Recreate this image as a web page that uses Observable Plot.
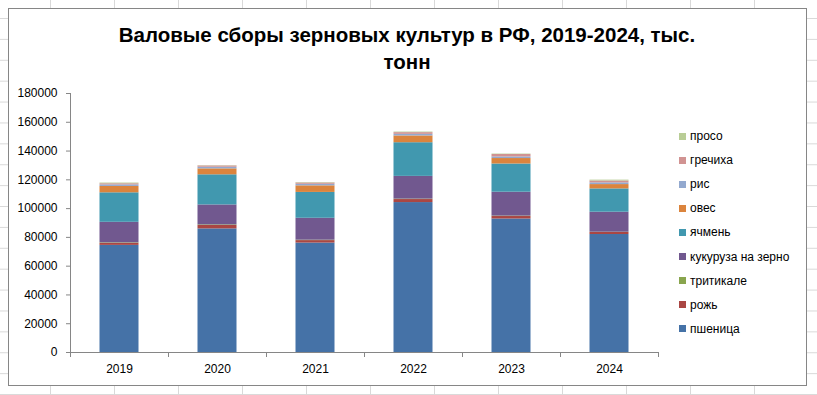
<!DOCTYPE html>
<html>
<head>
<meta charset="utf-8">
<script src="https://cdn.jsdelivr.net/npm/d3@7"></script>
<script src="https://cdn.jsdelivr.net/npm/@observablehq/plot@0.6"></script>
<style>
  html, body { margin: 0; padding: 0; width: 817px; height: 395px; overflow: hidden; background: #fff; }
  #sheet { position: absolute; left: 0; top: 0; width: 817px; height: 395px;
    background-image: linear-gradient(to right, #d9d9d9 1px, transparent 1px),
                      linear-gradient(to bottom, #d9d9d9 1px, transparent 1px);
    background-size: 64px 20.9px; background-position: 50px 18px; }
  #frame { position: absolute; left: 8px; top: 8px; width: 797px; height: 376px;
    border: 1px solid #868686; background: #fff; }
  #title { position: absolute; left: 8px; top: 21px; width: 798px; text-align: center;
    font-family: "Liberation Sans", Arial, sans-serif; font-weight: bold; font-size: 20.5px;
    line-height: 27px; color: #000; }
  #chart { position: absolute; left: 0; top: 0; }
  #legend { position: absolute; left: 679px; top: 124px;
    font-family: "Liberation Sans", Arial, sans-serif; font-size: 12px; color: #000; }
  .item { height: 24.1px; display: flex; align-items: center; }
  .sw { width: 7px; height: 7px; margin-right: 4px; }
</style>
</head>
<body>
<div id="sheet"></div>
<div id="frame"></div>
<div id="title">Валовые сборы зерновых культур в РФ, 2019-2024, тыс.<br>тонн</div>
<div id="chart"></div>
<div id="legend"></div>
<script>
const years = [2019, 2020, 2021, 2022, 2023, 2024];
const crops = ["пшеница", "рожь", "тритикале", "кукуруза на зерно", "ячмень", "овес", "рис", "гречиха", "просо"];
const colors = ["#4572A7", "#AA4643", "#89A54E", "#71588F", "#4198AF", "#DB843D", "#93A9CF", "#D19392", "#B9CD96"];

// thousand tonnes
const wheat     = [74450, 85900, 76060, 104200, 92800, 82000];
const rye       = [1430, 2380, 1710, 2100, 1700, 1400];
const triticale = [330, 400, 290, 300, 300, 200];
const corn      = [14280, 13870, 15230, 15800, 16600, 13900];
const barley    = [20490, 20940, 17960, 23400, 19600, 16200];
const oats      = [4420, 4130, 4570, 4700, 3800, 3000];
const rice      = [1100, 1140, 1070, 1100, 1100, 1200];
const buckwheat = [780, 890, 920, 1200, 1700, 1300];
const millet    = [490, 180, 300, 400, 300, 600];

const series = [wheat, rye, triticale, corn, barley, oats, rice, buckwheat, millet];
const table = [];
crops.forEach((c, i) => years.forEach((y, j) => table.push({crop: c, year: y, value: series[i][j]})));

const yTicks = d3.range(0, 180001, 20000);
const bounds = [...years.map(y => y - 0.5), years[years.length - 1] + 0.5];

const chart = Plot.plot({
  width: 817, height: 395,
  marginLeft: 70, marginRight: 159, marginTop: 93, marginBottom: 43,
  x: {type: "linear", domain: [years[0] - 0.5, years[years.length - 1] + 0.5]},
  y: {domain: [0, 180000]},
  color: {domain: crops, range: colors},
  style: {fontFamily: "'Liberation Sans', Arial, sans-serif", fontSize: "12px", color: "#000", background: "transparent", overflow: "visible"},
  marks: [
    Plot.rectY(table, {x1: d => d.year - 0.5, x2: d => d.year + 0.5, y: "value", fill: "crop", insetLeft: 29.5, insetRight: 29.5}),
    Plot.ruleY([0], {stroke: "#868686"}),
    Plot.ruleX([bounds[0]], {stroke: "#868686"}),
    Plot.axisY({ticks: yTicks, tickSize: 4, tickPadding: 9, tickFormat: d => String(d), stroke: "#868686", label: null}),
    Plot.axisX({ticks: bounds, tickSize: 5, tickFormat: () => "", stroke: "#868686", label: null}),
    Plot.axisX({ticks: years, tickSize: 0, tickPadding: 12, tickFormat: d => String(d), label: null})
  ]
});
document.getElementById("chart").appendChild(chart);

const legend = document.getElementById("legend");
[...crops].reverse().forEach(c => {
  const it = document.createElement("div");
  it.className = "item";
  const sw = document.createElement("div");
  sw.className = "sw";
  sw.style.background = colors[crops.indexOf(c)];
  const t = document.createElement("span");
  t.textContent = c;
  it.appendChild(sw); it.appendChild(t);
  legend.appendChild(it);
});
</script>
</body>
</html>
